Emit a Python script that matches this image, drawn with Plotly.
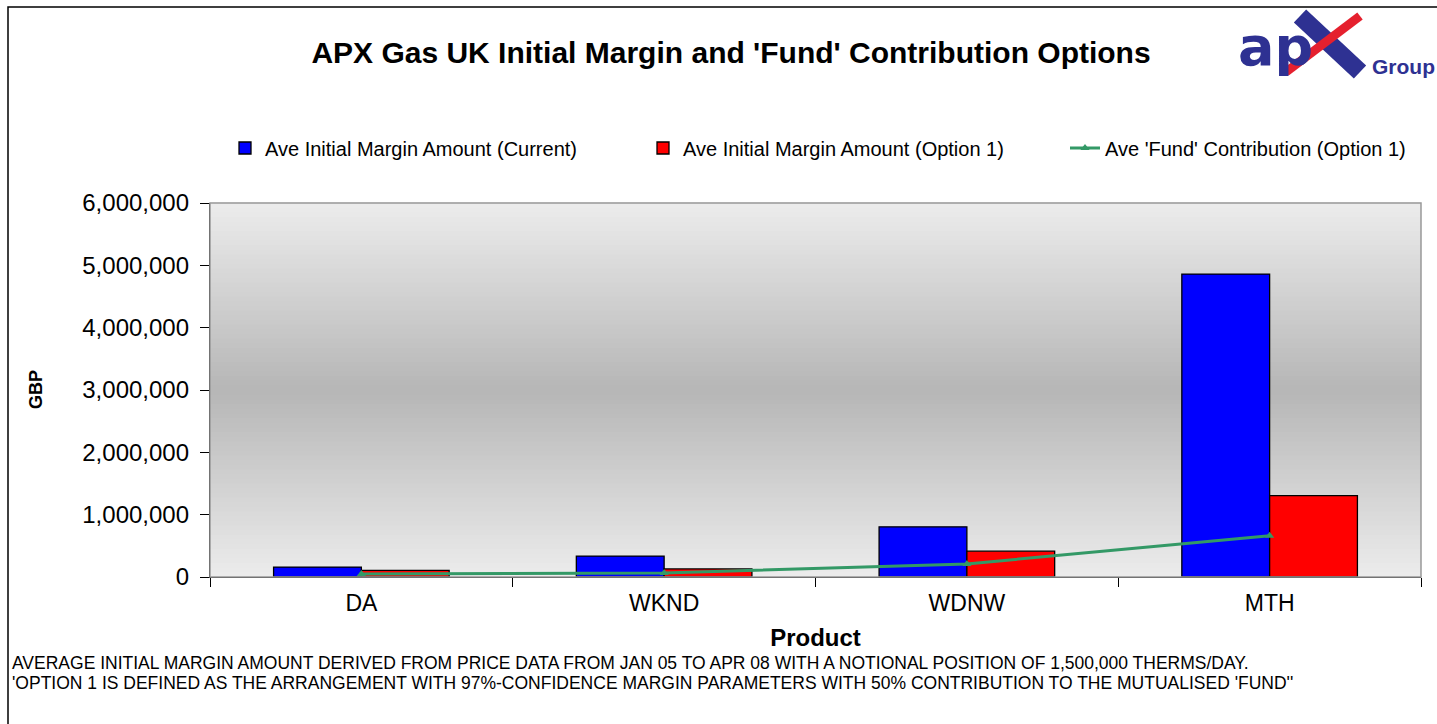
import plotly.graph_objects as go

categories = ["DA", "WKND", "WDNW", "MTH"]
margin_current = [160000, 335000, 805000, 4860000]
margin_option1 = [105000, 130000, 415000, 1305000]
fund_option1 = [50000, 65000, 210000, 660000]
y_ticks = [0, 1000000, 2000000, 3000000, 4000000, 5000000, 6000000]

W, H = 1437, 724
L, R, T, B = 210, 16, 203, 147
PW, PH = W - L - R, H - T - B

def px(x):
    return (x - L) / PW

def py(y):
    return (H - B - y) / PH

FONT = "Liberation Sans, Arial, sans-serif"

fig = go.Figure()
fig.add_trace(go.Bar(
    x=categories, y=margin_current, name="Ave Initial Margin Amount (Current)",
    marker=dict(color="#0000FF", line=dict(color="#000000", width=1.3)),
    legend="legend",
))
fig.add_trace(go.Bar(
    x=categories, y=margin_option1, name="Ave Initial Margin Amount (Option 1)",
    marker=dict(color="#FF0000", line=dict(color="#000000", width=1.3)),
    legend="legend2",
))
fig.add_trace(go.Scatter(
    x=categories, y=fund_option1, name="Ave 'Fund' Contribution (Option 1)",
    mode="lines+markers",
    line=dict(color="#339966", width=3),
    marker=dict(symbol="triangle-up", size=8, color="#339966"),
    legend="legend3",
))

shapes = []
n = 80
for i in range(n):
    t0, t1 = i / n, (i + 1) / n
    tm = (t0 + t1) / 2
    d = abs(2 * tm - 1)
    g = int(round(182 + (236 - 182) * d))
    shapes.append(dict(type="rect", xref="x domain", yref="y domain",
                       x0=0, x1=1, y0=t0, y1=t1 + 0.002,
                       fillcolor=f"rgb({g},{g},{g})", line=dict(width=0),
                       layer="below"))
shapes.append(dict(type="rect", xref="x domain", yref="y domain", x0=0, x1=1, y0=0, y1=1,
                   line=dict(color="#999999", width=1.5), fillcolor="rgba(0,0,0,0)", layer="above"))
shapes.append(dict(type="rect", xref="paper", yref="paper",
                   x0=px(8), x1=px(1500), y0=py(800), y1=py(7),
                   line=dict(color="#000000", width=1.5), fillcolor="rgba(0,0,0,0)"))
shapes.append(dict(type="line", xref="paper", yref="paper",
                   x0=px(1300), y0=py(16), x1=px(1360), y1=py(72),
                   line=dict(color="#2E3192", width=18)))
shapes.append(dict(type="line", xref="paper", yref="paper",
                   x0=px(1286), y0=py(72), x1=px(1360), y1=py(16),
                   line=dict(color="#E5202E", width=9)))

annotations = [
    dict(text="GBP", x=px(24), y=py(390), xref="paper", yref="paper", textangle=-90,
         showarrow=False, font=dict(family=FONT, size=18, color="#000000", weight="bold")),
    dict(text="AVERAGE INITIAL MARGIN AMOUNT DERIVED FROM PRICE DATA FROM JAN 05 TO APR 08 WITH A NOTIONAL POSITION OF 1,500,000 THERMS/DAY.",
         x=px(10), y=py(663), xref="paper", yref="paper", xanchor="left", yanchor="middle",
         showarrow=False, font=dict(family=FONT, size=17.5, color="#000000")),
    dict(text="'OPTION 1 IS DEFINED AS THE ARRANGEMENT WITH 97%-CONFIDENCE MARGIN PARAMETERS WITH 50% CONTRIBUTION TO THE MUTUALISED 'FUND''",
         x=px(10), y=py(683), xref="paper", yref="paper", xanchor="left", yanchor="middle",
         showarrow=False, font=dict(family=FONT, size=17.5, color="#000000")),
    dict(text="ap", x=px(1236), y=py(46), xref="paper", yref="paper", xanchor="left", yanchor="middle",
         showarrow=False, font=dict(family="DejaVu Sans, sans-serif", size=54, color="#2E3192", weight="bold")),
    dict(text="Group", x=px(1370), y=py(66), xref="paper", yref="paper", xanchor="left", yanchor="middle",
         showarrow=False, font=dict(family=FONT, size=21, color="#2E3192", weight="bold")),
]

leg_common = dict(orientation="h", y=py(148), xanchor="left", yanchor="middle",
                  xref="paper", yref="paper",
                  font=dict(family=FONT, size=20, color="#000000"),
                  bgcolor="rgba(0,0,0,0)")

fig.update_layout(
    width=W, height=H,
    margin=dict(l=L, r=R, t=T, b=B),
    paper_bgcolor="#FFFFFF", plot_bgcolor="rgba(0,0,0,0)",
    font=dict(family=FONT, color="#000000"),
    title=dict(text="<b>APX Gas UK Initial Margin and 'Fund' Contribution Options</b>",
               x=731 / W, xref="container", xanchor="center",
               y=1 - 52 / H, yref="container", yanchor="middle",
               font=dict(family=FONT, size=30, color="#000000")),
    barmode="group", bargap=0.42, bargroupgap=0,
    showlegend=True,
    legend=dict(x=px(225), **leg_common),
    legend2=dict(x=px(643), **leg_common),
    legend3=dict(x=px(1065), **leg_common),
    xaxis=dict(type="category", tickson="boundaries", ticks="outside", ticklen=9,
               tickcolor="#000000", showline=True, linecolor="#000000", linewidth=1.3,
               showgrid=False, tickfont=dict(family=FONT, size=23), ticklabelstandoff=5,
               title=dict(text="<b>Product</b>", font=dict(family=FONT, size=24), standoff=14)),
    yaxis=dict(range=[0, 6000000], tickvals=y_ticks, tickformat=",d", ticks="outside",
               ticklen=9, tickcolor="#000000", showline=True, linecolor="#000000",
               linewidth=1.3, showgrid=False, zeroline=False,
               tickfont=dict(family=FONT, size=24), ticklabelstandoff=6),
    shapes=shapes, annotations=annotations,
)

fig.write_html("out.html", config={"displayModeBar": False},
               post_script="document.body.style.margin='0';")
